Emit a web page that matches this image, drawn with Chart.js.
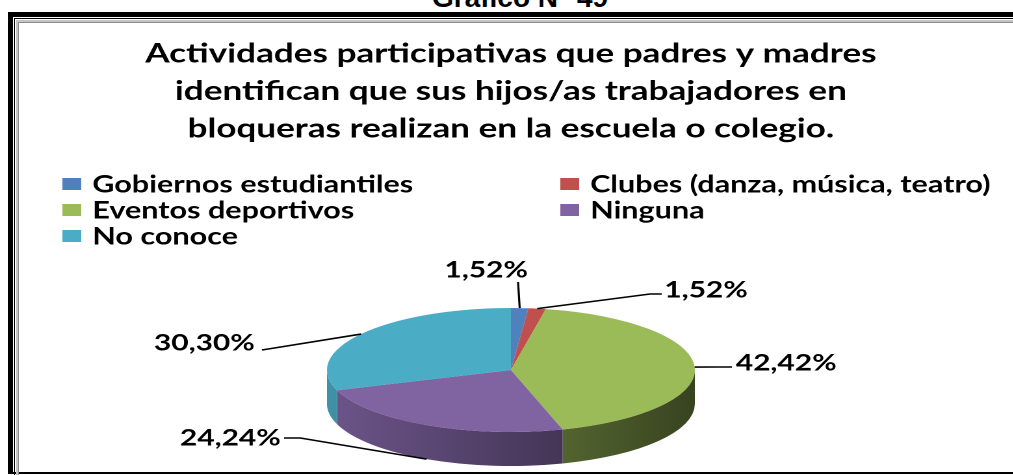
<!DOCTYPE html>
<html lang="es">
<head>
<meta charset="utf-8">
<title>Gráfico N° 49</title>
<script src="https://cdn.jsdelivr.net/npm/chart.js@4.4.1/dist/chart.umd.min.js"></script>
<style>
  html, body { margin: 0; padding: 0; background: #fff; }
  #page { position: relative; width: 1013px; height: 475px; overflow: hidden; }
  #caption {
    position: absolute; left: 432px; top: -18px;
    font: bold 28px "Liberation Sans", Arial, sans-serif; color: #000; white-space: nowrap;
  }
  .frame { position: absolute; width: 1100px; }
  #f1 { left: 8px; top: 12px; height: 455px; border-left: 5px solid #000; border-top: 5px solid #000; border-bottom: 2px solid #000; }
  #f2 { left: 14px; top: 18px; height: 460px; border-left: 1px solid #000; border-top: 1px solid #000; }
  #f3 { left: 16px; top: 20px; height: 460px; border-left: 2px solid #c4c4c4; border-top: 2px solid #c4c4c4; }
  #f4 { left: 18px; top: 22px; height: 460px; border-left: 1px solid #8c8c8c; border-top: 1px solid #8c8c8c; }
  /* the chart is laid out narrow and widened as a whole */
  #box { position: absolute; left: 0; top: 0; width: 779px; height: 475px; transform: scaleX(1.3); transform-origin: 0 0; }
</style>
</head>
<body>
<div id="page">
  <div id="caption">Gráfico N° 49</div>
  <div class="frame" id="f1"></div>
  <div class="frame" id="f2"></div>
  <div class="frame" id="f3"></div>
  <div class="frame" id="f4"></div>
  <div id="box"><canvas id="pieChart"></canvas></div>
</div>
<script>
(function() {
    'use strict';

    const categories = [
        'Gobiernos estudiantiles',
        'Clubes (danza, música, teatro)',
        'Eventos deportivos',
        'Ninguna',
        'No conoce'
    ];
    const percentages = [1.52, 1.52, 42.42, 24.24, 30.30];
    const sliceColors = ['#4f81bd', '#c0504d', '#9bbb59', '#8064a2', '#4bacc6'];
    const titleLines = [
        'Actividades participativas que padres y madres',
        'identifican que sus hijos/as trabajadores en',
        'bloqueras realizan en la escuela o colegio.'
    ];

    // tilted pie: centre, half axes and wall height
    const PIE = { cx: 393, cy: 370, rx: 141.5, ry: 62, depth: 34 };

    // legend grid
    const LEGEND = { colX: [48, 431], textGap: 23, top: 184, rowGap: 26, boxW: 14.5, boxH: 12 };

    // value labels: where the text sits and the bends of its leader line
    const LABELS = [
        { tx: 374, ty: 270, align: 'center', path: [[398.5, 282]] },
        { tx: 511, ty: 290, align: 'left',   path: [[500, 294], [509, 294]] },
        { tx: 566, ty: 363, align: 'left',   path: [[552, 367], [563, 367]] },
        { tx: 216, ty: 438, align: 'right',  path: [[231, 438], [218.5, 438]] },
        { tx: 196, ty: 343, align: 'right',  path: [[201.5, 350]] }
    ];

    const FONT = 'Lato, "Open Sans", sans-serif';

    function shade(hex, f) {
        const n = parseInt(hex.slice(1), 16);
        const r = Math.round(((n >> 16) & 255) * f);
        const g = Math.round(((n >> 8) & 255) * f);
        const b = Math.round((n & 255) * f);
        return 'rgb(' + r + ',' + g + ',' + b + ')';
    }

    function fmt(v) {
        return v.toFixed(2).replace('.', ',') + '%';
    }

    // maps the library's round pie onto the flattened ellipse
    function tilt(ctx, arc) {
        const R = arc.outerRadius;
        ctx.translate(PIE.cx, PIE.cy);
        ctx.scale(PIE.rx / R, PIE.ry / R);
        ctx.translate(-arc.x, -arc.y);
    }

    let tilted = false;

    const pie3d = {
        id: 'pie3d',
        beforeDatasetsDraw(chart) {
            const ctx = chart.ctx;
            const arcs = chart.getDatasetMeta(0).data;
            if (!arcs.length) return;
            const first = arcs[0];
            const R = first.outerRadius;
            const dz = PIE.depth * R / PIE.ry;

            // front wall of every slice that reaches the near half
            ctx.save();
            tilt(ctx, first);
            arcs.forEach(function(arc, i) {
                const s = Math.max(arc.startAngle, 0);
                const e = Math.min(arc.endAngle, Math.PI);
                if (e <= s) return;
                const grad = ctx.createLinearGradient(arc.x - R, 0, arc.x + R, 0);
                grad.addColorStop(0, shade(sliceColors[i], 0.85));
                grad.addColorStop(1, shade(sliceColors[i], 0.36));
                ctx.fillStyle = grad;
                ctx.beginPath();
                ctx.arc(arc.x, arc.y, R, s, e);
                ctx.arc(arc.x, arc.y + dz, R, e, s, true);
                ctx.closePath();
                ctx.fill();
            });
            ctx.restore();

            // top faces are drawn by the library under this transform
            ctx.save();
            tilt(ctx, first);
            tilted = true;
        },
        afterDatasetsDraw(chart) {
            if (tilted) {
                chart.ctx.restore();
                tilted = false;
            }
        },
        afterDraw(chart) {
            const ctx = chart.ctx;
            const arcs = chart.getDatasetMeta(0).data;

            // legend
            ctx.save();
            ctx.font = 'bold 23.5px ' + FONT;
            ctx.textBaseline = 'middle';
            ctx.textAlign = 'left';
            categories.forEach(function(name, i) {
                const x = LEGEND.colX[i % 2];
                const y = LEGEND.top + Math.floor(i / 2) * LEGEND.rowGap;
                ctx.fillStyle = sliceColors[i];
                ctx.fillRect(x, y - LEGEND.boxH / 2, LEGEND.boxW, LEGEND.boxH);
                ctx.fillStyle = '#000';
                ctx.fillText(name, x + LEGEND.textGap, y + 1);
            });
            ctx.restore();

            // value labels with leader lines
            ctx.save();
            ctx.font = 'bold 23px ' + FONT;
            ctx.textBaseline = 'middle';
            ctx.strokeStyle = '#000';
            ctx.lineWidth = 1.6;
            arcs.forEach(function(arc, i) {
                const lab = LABELS[i];
                const m = (arc.startAngle + arc.endAngle) / 2;
                let ax = PIE.cx + PIE.rx * Math.cos(m);
                let ay = PIE.cy + PIE.ry * Math.sin(m);
                if (Math.sin(m) > 0.5) ay += PIE.depth;
                ctx.beginPath();
                ctx.moveTo(ax, ay);
                lab.path.forEach(function(p) { ctx.lineTo(p[0], p[1]); });
                ctx.stroke();
                ctx.fillStyle = '#000';
                ctx.textAlign = lab.align;
                ctx.fillText(fmt(percentages[i]), lab.tx, lab.ty);
            });
            ctx.restore();
        }
    };

    function initChart() {
        const canvas = document.getElementById('pieChart');
        if (!canvas || typeof Chart === 'undefined') return;

        new Chart(canvas.getContext('2d'), {
            type: 'pie',
            data: {
                labels: categories,
                datasets: [{
                    data: percentages,
                    backgroundColor: sliceColors,
                    borderWidth: 0,
                    clip: false
                }]
            },
            options: {
                responsive: true,
                maintainAspectRatio: false,
                devicePixelRatio: 2,
                animation: false,
                events: [],
                layout: { padding: { left: 7, right: 0, top: 0, bottom: 0 } },
                plugins: {
                    legend: { display: false },
                    tooltip: { enabled: false },
                    title: {
                        display: true,
                        text: titleLines,
                        color: '#000',
                        font: { family: FONT, size: 27, weight: 'bold', lineHeight: 1.39 },
                        padding: { top: 35, bottom: 10 }
                    }
                }
            },
            plugins: [pie3d]
        });
    }

    if (document.readyState === 'loading') {
        document.addEventListener('DOMContentLoaded', initChart);
    } else {
        initChart();
    }
})();
</script>
</body>
</html>
